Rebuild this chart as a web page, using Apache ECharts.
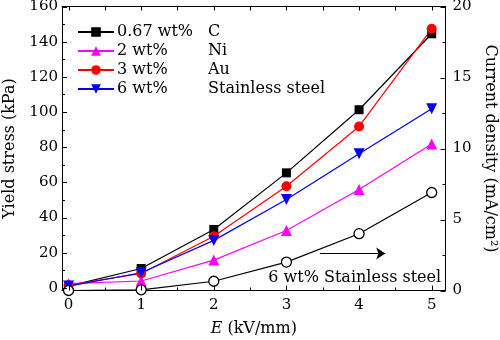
<!DOCTYPE html>
<html>
<head>
<meta charset="utf-8">
<script src="https://cdn.jsdelivr.net/npm/echarts@6/dist/echarts.min.js"></script>
<style>
  html, body { margin: 0; padding: 0; background: #fff; }
  #chart { width: 500px; height: 340px; }
</style>
</head>
<body>
<div id="chart"></div>
<script>
// Electric field strength E (kV/mm)
const fieldE = [0, 1, 2, 3, 4, 5];

// Yield stress (kPa) for each particle composition
const stressC  = [1.0, 11.0, 33.2, 65.4, 101.3, 144.5];
const stressNi = [2.4, 3.9, 15.8, 32.6, 55.9, 81.8];
const stressAu = [1.5, 8.2, 29.4, 57.8, 91.8, 147.3];
const stressSS = [1.0, 8.6, 27.0, 50.2, 76.3, 101.9];

// Current density (mA/cm^2), 6 wt% stainless steel
const currentSS = [0, 0.05, 0.65, 2.0, 4.0, 6.9];

// Legend columns
const seriesNames = ['0.67 wt%', '2 wt%', '3 wt%', '6 wt%'];
const dopants = ['C', 'Ni', 'Au', 'Stainless steel'];

// Tick values
const xMajor = [0, 1, 2, 3, 4, 5];
const xMinor = [0.5, 1.5, 2.5, 3.5, 4.5];
const xTop = [0, 0.5, 1, 1.5, 2, 2.5, 3, 3.5, 4, 4.5, 5];
const yMajor = [0, 20, 40, 60, 80, 100, 120, 140, 160];
const yMinor = [10, 30, 50, 70, 90, 110, 130, 150];
const jMajor = [0, 5, 10, 15, 20];
const jMinor = [2.5, 7.5, 12.5, 17.5];

const FONT = 'DejaVu Serif';
const pairs = v => fieldE.map((x, i) => [x, v[i]]);

const chart = echarts.init(document.getElementById('chart'), null, { renderer: 'canvas' });

const frameLine = () => ({ show: true, onZero: false, lineStyle: { color: '#000', width: 1 } });
const xRange = { min: -0.09, max: 5.19 };

const dopantOf = {};
seriesNames.forEach((n, i) => { dopantOf[n] = dopants[i]; });

function lineSeries(name, data, color, symbol, size, rotate) {
  return {
    name: name,
    type: 'line',
    xAxisIndex: 0,
    yAxisIndex: 0,
    data: pairs(data),
    symbol: symbol,
    symbolSize: size,
    symbolRotate: rotate || 0,
    showSymbol: true,
    lineStyle: { color: color, width: 1.2 },
    itemStyle: { color: color, borderWidth: 0 },
    z: 3
  };
}

// Inward-pointing frame ticks, placed through the axis scales.
// side: 'bottom' | 'top' | 'left' | 'right'
function tickMarks(values, side, len, yAxisIndex) {
  const vertical = side === 'left' || side === 'right';
  return {
    type: 'custom',
    xAxisIndex: 0,
    yAxisIndex: yAxisIndex,
    silent: true,
    clip: false,
    z: 5,
    data: values.map(v => (vertical ? [0, v] : [v, 0])),
    renderItem: (params, api) => {
      const cs = params.coordSys;
      let x1, y1, x2, y2;
      if (vertical) {
        const py = Math.round(api.coord([0, api.value(1)])[1]) + 0.5;
        const edge = side === 'left' ? cs.x : cs.x + cs.width;
        const dir = side === 'left' ? 1 : -1;
        x1 = edge; x2 = edge + dir * len; y1 = y2 = py;
      } else {
        const px = Math.round(api.coord([api.value(0), 0])[0]) + 0.5;
        const edge = side === 'bottom' ? cs.y + cs.height : cs.y;
        const dir = side === 'bottom' ? -1 : 1;
        y1 = edge; y2 = edge + dir * len; x1 = x2 = px;
      }
      return {
        type: 'line',
        shape: { x1: x1, y1: y1, x2: x2, y2: y2 },
        style: { stroke: '#000', lineWidth: 1 }
      };
    }
  };
}

chart.setOption({
  animation: false,
  backgroundColor: '#fff',
  grid: { left: 62, right: 54.5, top: 6.5, bottom: 49.5, containLabel: false, outerBoundsMode: 'none' },
  legend: {
    orient: 'vertical',
    left: 72,
    top: 19,
    itemWidth: 36,
    itemHeight: 12,
    itemGap: 3,
    data: seriesNames,
    selectedMode: false,
    formatter: n => '{a|' + n + '}{b|' + dopantOf[n] + '}',
    textStyle: {
      fontFamily: FONT,
      fontSize: 16,
      color: '#000',
      padding: [0, 0, 0, -2],
      rich: {
        a: { fontFamily: FONT, fontSize: 16, color: '#000', width: 91, lineHeight: 16 },
        b: { fontFamily: FONT, fontSize: 16, color: '#000', lineHeight: 16 }
      }
    }
  },
  xAxis: [
    {
      type: 'value', position: 'bottom', ...xRange,
      axisLine: frameLine(),
      axisTick: { show: false },
      axisLabel: { customValues: xMajor, margin: 7, color: '#000', fontFamily: FONT, fontSize: 15 },
      splitLine: { show: false },
      name: '{i|E} (kV/mm)',
      nameLocation: 'middle',
      nameGap: 30,
      nameTextStyle: {
        fontFamily: FONT, fontSize: 16, color: '#000',
        rich: { i: { fontFamily: FONT, fontSize: 16, fontStyle: 'italic', color: '#000' } }
      }
    },
    {
      type: 'value', position: 'top', ...xRange,
      axisLine: frameLine(),
      axisTick: { show: false },
      axisLabel: { show: false },
      splitLine: { show: false }
    }
  ],
  yAxis: [
    {
      type: 'value', position: 'left', min: -1.5, max: 160,
      axisLine: frameLine(),
      axisTick: { show: false },
      axisLabel: { customValues: yMajor, margin: 4, color: '#000', fontFamily: FONT, fontSize: 15 },
      splitLine: { show: false },
      name: 'Yield stress (kPa)',
      nameLocation: 'middle',
      nameGap: 44,
      nameTextStyle: { fontFamily: FONT, fontSize: 16, color: '#000' }
    },
    {
      type: 'value', position: 'right', min: 0, max: 20, interval: 5,
      axisLine: frameLine(),
      axisTick: { show: false },
      axisLabel: { margin: 7, color: '#000', fontFamily: FONT, fontSize: 15 },
      splitLine: { show: false },
      name: 'Current density (mA/cm\u00B2)',
      nameLocation: 'middle',
      nameGap: 36,
      nameRotate: -90,
      nameTextStyle: { fontFamily: FONT, fontSize: 16, color: '#000' }
    }
  ],
  series: [
    lineSeries(seriesNames[0], stressC, '#000000', 'rect', 9),
    lineSeries(seriesNames[1], stressNi, '#ff00ff', 'triangle', 11),
    lineSeries(seriesNames[2], stressAu, '#ff0000', 'circle', 10),
    lineSeries(seriesNames[3], stressSS, '#0000ff', 'triangle', 11, 180),
    {
      name: 'current',
      type: 'line',
      xAxisIndex: 0,
      yAxisIndex: 1,
      data: pairs(currentSS),
      symbol: 'circle',
      symbolSize: 10,
      lineStyle: { color: '#000', width: 1.2 },
      itemStyle: { color: '#fff', borderColor: '#000', borderWidth: 1.3 },
      z: 4,
      markLine: {
        silent: true,
        symbol: ['none', 'arrow'],
        symbolSize: 9,
        label: { show: false },
        lineStyle: { color: '#000', width: 1.2, type: 'solid' },
        data: [[{ coord: [3.46, 2.6] }, { coord: [4.36, 2.6] }]]
      },
      markPoint: {
        silent: true,
        symbol: 'circle',
        symbolSize: 0,
        label: {
          show: true,
          position: 'inside',
          formatter: '6 wt% Stainless steel',
          fontFamily: FONT,
          fontSize: 16,
          color: '#000'
        },
        data: [{ coord: [3.94, 0.92] }]
      }
    },
    tickMarks(xMajor, 'bottom', 5, 0),
    tickMarks(xMinor, 'bottom', 3, 0),
    tickMarks(xTop, 'top', 4, 0),
    tickMarks(yMajor, 'left', 5, 0),
    tickMarks(yMinor, 'left', 3, 0),
    tickMarks(jMajor, 'right', 5, 1),
    tickMarks(jMinor, 'right', 3, 1)
  ]
});
</script>
</body>
</html>
